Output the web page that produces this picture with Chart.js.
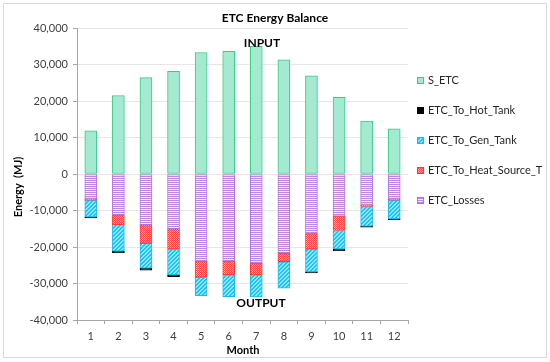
<!DOCTYPE html>
<html>
<head>
<meta charset="utf-8">
<script src="https://cdn.jsdelivr.net/npm/chart.js@4"></script>
<style>
  html, body { margin: 0; padding: 0; background: #fff; }
  #wrap { width: 550px; height: 362px; }
</style>
</head>
<body>
<div id="wrap"><canvas id="etc-chart" width="550" height="362"></canvas></div>
<script>
// Monthly ETC energy balance (MJ)
const months = ['1', '2', '3', '4', '5', '6', '7', '8', '9', '10', '11', '12'];
const sEtc = [11800, 21500, 26400, 28100, 33300, 33600, 35000, 31300, 26900, 21000, 14500, 12400];
const etcLosses = [-6700, -11200, -13850, -14950, -23950, -23850, -24400, -21650, -16350, -11550, -8350, -6700];
const toHeatSource = [-460, -2660, -5140, -5600, -4300, -3760, -3200, -2400, -4200, -3940, -550, -460];
const toGenTank = [-4580, -7250, -6790, -7060, -5050, -5970, -6100, -7240, -6240, -5050, -5400, -5100];
const toHotTank = [-280, -460, -550, -550, 0, 0, 0, 0, -280, -460, -280, -280];
const yTicks = [-40000, -30000, -20000, -10000, 0, 10000, 20000, 30000, 40000];

const FONT = 'Lato, "Open Sans", "DejaVu Sans", sans-serif';
const canvas = document.getElementById('etc-chart');
const ctx = canvas.getContext('2d');

// small repeating fills like the Excel pattern fills
function makePattern(w, h, paint) {
    const c = document.createElement('canvas');
    c.width = w;
    c.height = h;
    const p = c.getContext('2d');
    for (let y = 0; y < h; y++) {
        for (let x = 0; x < w; x++) {
            p.fillStyle = paint(x, y);
            p.fillRect(x, y, 1, 1);
        }
    }
    return ctx.createPattern(c, 'repeat');
}

const stripePurple = makePattern(1, 2, (x, y) => y === 0 ? '#bd86e3' : '#f4eafa');
const checkRed = makePattern(4, 4, (x, y) => ((x + y) % 2 === 0) ? '#ff4545' : '#ffa8a8');
const hatchBlue = makePattern(4, 4, (x, y) => ((x + y) % 4 < 2) ? '#1cc6f4' : '#8ee4fb');

// stacking order (nearest zero first) differs from legend order
const legendOrder = [0, 4, 3, 2, 1];

const annotations = {
    id: 'annotations',
    afterDraw(chart) {
        const c = chart.ctx;
        c.save();
        // outer frame
        c.strokeStyle = '#d9d9d9';
        c.lineWidth = 1;
        c.strokeRect(3.5, 3.5, 543, 354);

        c.fillStyle = '#000';
        c.textAlign = 'center';
        c.textBaseline = 'middle';
        c.font = 'bold 12px ' + FONT;
        c.fillText('ETC Energy Balance', 275, 18);
        c.fillText('INPUT', 262, 43);
        c.fillText('OUTPUT', 261, 303);

        c.font = 'bold 11px ' + FONT;
        c.fillText('Month', 243, 350);
        c.translate(18, 187);
        c.rotate(-Math.PI / 2);
        c.fillText('Energy  (MJ)', 0, 0);
        c.restore();

        // legend on the right
        c.save();
        c.font = '11px ' + FONT;
        c.textAlign = 'left';
        c.textBaseline = 'middle';
        legendOrder.forEach((idx, i) => {
            const ds = chart.data.datasets[idx];
            const cy = 80.5 + i * 30;
            c.fillStyle = ds.backgroundColor;
            c.fillRect(417, cy - 3.5, 7, 7);
            c.strokeStyle = ds.borderColor;
            c.lineWidth = 1;
            c.strokeRect(417.5, cy - 3, 6, 6);
            c.fillStyle = '#262626';
            c.fillText(ds.label, 428, cy);
        });
        c.restore();
    }
};

new Chart(ctx, {
    type: 'bar',
    data: {
        labels: months,
        datasets: [
            { label: 'S_ETC', data: sEtc, backgroundColor: '#a3ead0', borderColor: '#35cc86' },
            { label: 'ETC_Losses', data: etcLosses, backgroundColor: stripePurple, borderColor: '#b070e0' },
            { label: 'ETC_To_Heat_Source_T', data: toHeatSource, backgroundColor: checkRed, borderColor: '#ff3838' },
            { label: 'ETC_To_Gen_Tank', data: toGenTank, backgroundColor: hatchBlue, borderColor: '#1cb8f0' },
            { label: 'ETC_To_Hot_Tank', data: toHotTank, backgroundColor: '#000000', borderColor: '#000000' }
        ].map(ds => Object.assign(ds, { borderWidth: 1, borderSkipped: false, barThickness: 12 }))
    },
    options: {
        responsive: false,
        animation: false,
        layout: { padding: { left: 10, right: 142, top: 28, bottom: 0 } },
        plugins: {
            legend: { display: false },
            tooltip: { enabled: false }
        },
        scales: {
            x: {
                stacked: true,
                grid: { offset: true, drawOnChartArea: false, tickLength: 4, tickColor: '#a6a6a6' },
                border: { color: '#a6a6a6' },
                ticks: { color: '#404040', font: { family: FONT, size: 11 }, padding: 6, maxRotation: 0 },
                afterFit(scale) { scale.height = 42; }
            },
            y: {
                stacked: true,
                min: yTicks[0],
                max: yTicks[yTicks.length - 1],
                afterBuildTicks(scale) { scale.ticks = yTicks.map(v => ({ value: v })); },
                grid: { color: '#e6e6e6', tickLength: 4, tickColor: '#a6a6a6' },
                border: { color: '#a6a6a6' },
                ticks: {
                    color: '#404040',
                    font: { family: FONT, size: 11 },
                    padding: 5,
                    callback: v => v.toLocaleString('en-US')
                },
                afterFit(scale) { scale.width = 67; }
            }
        }
    },
    plugins: [annotations]
});
</script>
</body>
</html>
